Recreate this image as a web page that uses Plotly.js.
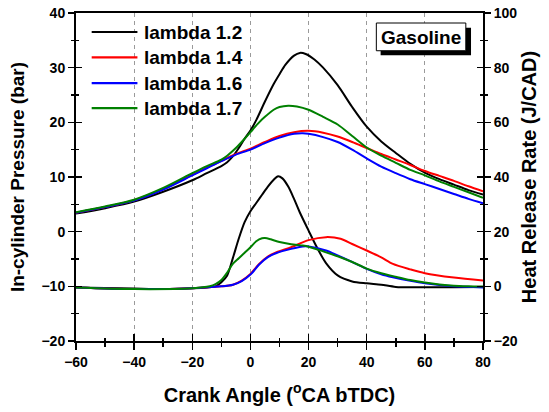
<!DOCTYPE html>
<html>
<head>
<meta charset="utf-8">
<script src="https://cdn.plot.ly/plotly-3.0.1.min.js"></script>
<style>html,body{margin:0;padding:0;background:#fff;}#chart{width:549px;height:412px;}</style>
</head>
<body>
<div id="chart"></div>
<script>
// ---------------- DATA ----------------
var seriesNames = ["lambda 1.2", "lambda 1.4", "lambda 1.6", "lambda 1.7"];
var seriesColors = ["#000000", "#ff0000", "#0000ff", "#008000"];

// In-cylinder pressure (bar), left axis
var p12_x = [-60,-50,-40,-30,-20,-15,-10,-8,-6,-4,-2,0,2,5,8,10,12,15,17,19,22,25,30,35,40,45,50,55,60,65,70,75,80];
var p12_y = [3.3,4.3,5.5,7.3,9.4,10.7,12.0,12.7,13.8,15.3,17.0,18.5,20.4,23.8,27.0,28.8,30.5,32.2,32.7,32.5,31.5,30.0,26.8,22.8,19.2,16.5,14.4,12.4,10.8,9.6,8.6,7.6,6.8];
var p14_x = [-60,-50,-40,-30,-20,-15,-10,-5,0,5,10,15,20,25,30,35,40,45,50,55,60,65,70,75,80];
var p14_y = [3.45,4.5,5.75,7.8,10.4,11.7,12.95,14.2,15.2,16.4,17.5,18.2,18.45,18.1,17.4,16.4,15.3,14.2,13.2,12.2,11.1,10.2,9.3,8.3,7.4];
var p16_x = [-60,-50,-40,-30,-20,-15,-10,-5,0,5,10,15,18,20,25,30,35,40,45,50,55,60,65,70,75,80];
var p16_y = [3.45,4.5,5.7,7.7,10.3,11.6,12.9,14.1,15.0,16.2,17.2,17.9,18.0,17.9,17.3,16.4,15.0,13.4,11.9,10.7,9.6,8.7,7.8,6.9,6.0,5.2];
var p17_x = [-60,-50,-40,-30,-20,-15,-10,-8,-5,-2,0,3,5,8,10,13,16,20,25,30,35,40,45,50,55,60,65,70,75,80];
var p17_y = [3.55,4.6,5.85,8.0,10.7,12.0,13.2,13.9,15.3,17.0,18.2,20.0,21.0,22.3,22.8,23.05,22.9,22.3,21.0,19.6,17.5,15.4,13.9,12.6,11.3,10.3,9.2,8.2,7.2,6.2];

// Heat release rate (J/CAD), right axis
var h12_x = [-60,-50,-40,-30,-20,-15,-12,-10,-8,-6,-4,-2,0,2,4,6,8,9.5,11,13,15,17,20,23,26,30,35,40,45,50,60,70,80];
var h12_y = [-0.4,-0.6,-0.8,-1,-0.7,-0.4,0,1.5,4,10.5,17.5,23.5,27.5,30.5,33.5,36.5,39,40.3,39.5,36.5,32,27,20.4,14,8.5,4,1.8,1.1,0.6,-0.2,-0.3,-0.3,-0.2];
var h14_x = [-60,-40,-20,-10,-6,-3,0,3,6,9,14,20,26,31,35,40,45,49,55,60,70,80];
var h14_y = [-0.4,-1,-0.7,0,0.6,2.1,4.5,8.2,10.9,12.5,14.3,16.9,18.0,17.4,15.5,13.1,10.6,8.2,6.2,4.8,3.2,2.1];
var h16_x = [-60,-40,-20,-10,-6,-3,0,3,6,9,14,18,20,26,30,34,40,45,49,55,60,70,80];
var h16_y = [-0.4,-1,-0.7,0,0.6,1.9,4.3,8.0,10.7,12.2,13.7,14.6,14.6,13.1,11.3,9.4,6.4,4.4,3.3,2.0,1.1,0,-0.4];
var h17_x = [-60,-40,-20,-14,-12,-10,-8,-6,-4,-2,0,2,4,5,7,10,14,18,20,25,30,35,40,45,50,55,60,65,70,75,80];
var h17_y = [-0.4,-1,-0.7,0,0.8,2.3,5,8.3,10.3,12.3,14.3,16.5,17.6,17.7,17.2,16.2,15.4,14.9,14.5,12.8,11,8.9,6.5,4.8,3.5,2.3,1.4,0.7,0.2,0,-0.1];

var xTitle = "Crank Angle (<sup>o</sup>CA bTDC)";
var yTitle = "In-cylinder Pressure (bar)";
var y2Title = "Heat Release Rate (J/CAD)";
var boxLabel = "Gasoline";

// ---------------- LAYOUT HELPERS ----------------
var W = 549, H = 412;
var PL = 76, PR = 483.5, PT = 13.3, PB = 341;
function fx(px){ return (px - PL) / (PR - PL); }
function fy(py){ return (PB - py) / (PB - PT); }
var FONT = "Liberation Sans, Arial, Helvetica, sans-serif";

var pX = [p12_x, p14_x, p16_x, p17_x], pY = [p12_y, p14_y, p16_y, p17_y];
var hX = [h12_x, h14_x, h16_x, h17_x], hY = [h12_y, h14_y, h16_y, h17_y];

var traces = [];
for (var i = 0; i < 4; i++) {
  traces.push({x: pX[i], y: pY[i], type: "scatter", mode: "lines", name: seriesNames[i],
    line: {color: seriesColors[i], width: 2, shape: "spline", smoothing: 0.8},
    xaxis: "x", yaxis: "y", showlegend: false, hoverinfo: "skip"});
}
for (var i = 0; i < 4; i++) {
  traces.push({x: hX[i], y: hY[i], type: "scatter", mode: "lines", name: seriesNames[i] + " HRR",
    line: {color: seriesColors[i], width: 2, shape: "spline", smoothing: 0.8},
    xaxis: "x", yaxis: "y2", showlegend: false, hoverinfo: "skip"});
}
// empty traces to activate the overlay tick axes
traces.push({x: [], y: [], xaxis: "x3", yaxis: "y3", showlegend: false, type: "scatter"});
traces.push({x: [], y: [], xaxis: "x3", yaxis: "y4", showlegend: false, type: "scatter"});

var tickFont = {family: FONT, size: 14, color: "#000", weight: "bold"};

var shapes = [], annotations = [];
var legRows = [32.3, 57.7, 83.3, 108.3];
for (var i = 0; i < 4; i++) {
  shapes.push({type: "line", xref: "paper", yref: "paper", x0: fx(91.7), x1: fx(137.5),
    y0: fy(legRows[i]), y1: fy(legRows[i]), line: {color: seriesColors[i], width: 2.2}});
  annotations.push({xref: "paper", yref: "paper", x: fx(142), y: fy(legRows[i]), xanchor: "left", yanchor: "middle",
    showarrow: false, text: seriesNames[i], font: {family: FONT, size: 19, color: "#000", weight: "bold"}});
}
// Gasoline box with shadow
shapes.push({type: "rect", xref: "paper", yref: "paper", x0: fx(381), x1: fx(471.5), y0: fy(55.5), y1: fy(28),
  fillcolor: "#000", line: {width: 0}});
shapes.push({type: "rect", xref: "paper", yref: "paper", x0: fx(376.7), x1: fx(466.3), y0: fy(51), y1: fy(23.3),
  fillcolor: "#fff", line: {color: "#000", width: 1}});
annotations.push({xref: "paper", yref: "paper", x: fx(421.5), y: fy(37.3), xanchor: "center", yanchor: "middle",
  showarrow: false, text: boxLabel, font: {family: FONT, size: 19, color: "#000", weight: "bold"}});

var layout = {
  width: W, height: H,
  margin: {l: PL, r: W - PR, t: PT, b: H - PB, pad: 0},
  paper_bgcolor: "#fff", plot_bgcolor: "#fff",
  showlegend: false,
  xaxis: {range: [-60, 80], tick0: -60, dtick: 20, ticks: "outside", ticklen: 7, tickwidth: 1.5, tickcolor: "#000",
    showline: true, linecolor: "#000", linewidth: 2, mirror: true,
    showgrid: true, gridcolor: "#9a9a9a", gridwidth: 1, griddash: "4px,4px", zeroline: false,
    minor: {dtick: 10, tick0: -60, ticks: "outside", ticklen: 3.5, tickwidth: 1.5, tickcolor: "#000", showgrid: false},
    tickfont: tickFont, fixedrange: true,
    title: {text: xTitle, font: {family: FONT, size: 20, color: "#000", weight: "bold"}, standoff: 19}},
  xaxis3: {range: [-60, 80], overlaying: "x", anchor: "y", side: "bottom", tick0: -60, dtick: 20,
    ticks: "inside", ticklen: 7, tickwidth: 1.5, tickcolor: "#000", showticklabels: false,
    showline: false, showgrid: false, zeroline: false,
    minor: {dtick: 10, tick0: -60, ticks: "inside", ticklen: 3.5, tickwidth: 1.5, tickcolor: "#000", showgrid: false}},
  yaxis: {range: [-20, 40], tick0: -20, dtick: 10, ticks: "outside", ticklen: 6, tickwidth: 1.5, tickcolor: "#000",
    showline: true, linecolor: "#000", linewidth: 2, showgrid: false, zeroline: false,
    minor: {dtick: 5, tick0: -20, ticks: "outside", ticklen: 3, tickwidth: 1.5, tickcolor: "#000", showgrid: false},
    tickfont: tickFont, fixedrange: true,
    title: {text: yTitle, font: {family: FONT, size: 19, color: "#000", weight: "bold"}, standoff: 12}},
  yaxis3: {range: [-20, 40], overlaying: "y", anchor: "x", side: "left", tick0: -20, dtick: 10,
    ticks: "inside", ticklen: 6, tickwidth: 1.5, tickcolor: "#000", showticklabels: false,
    showline: false, showgrid: false, zeroline: false,
    minor: {dtick: 5, tick0: -20, ticks: "inside", ticklen: 3, tickwidth: 1.5, tickcolor: "#000", showgrid: false}},
  yaxis2: {range: [-20, 100], overlaying: "y", anchor: "x", side: "right", tick0: -20, dtick: 20,
    ticks: "outside", ticklen: 6, tickwidth: 1.5, tickcolor: "#000",
    showline: true, linecolor: "#000", linewidth: 2, showgrid: false, zeroline: false,
    minor: {dtick: 10, tick0: -20, ticks: "outside", ticklen: 3, tickwidth: 1.5, tickcolor: "#000", showgrid: false},
    tickfont: tickFont, fixedrange: true,
    title: {text: y2Title, font: {family: FONT, size: 20, color: "#000", weight: "bold"}, standoff: 5}},
  yaxis4: {range: [-20, 100], overlaying: "y", anchor: "x", side: "right", tick0: -20, dtick: 20,
    ticks: "inside", ticklen: 6, tickwidth: 1.5, tickcolor: "#000", showticklabels: false,
    showline: false, showgrid: false, zeroline: false,
    minor: {dtick: 10, tick0: -20, ticks: "inside", ticklen: 3, tickwidth: 1.5, tickcolor: "#000", showgrid: false}},
  shapes: shapes,
  annotations: annotations
};

Plotly.newPlot("chart", traces, layout, {displayModeBar: false, staticPlot: true});
</script>
</body>
</html>
